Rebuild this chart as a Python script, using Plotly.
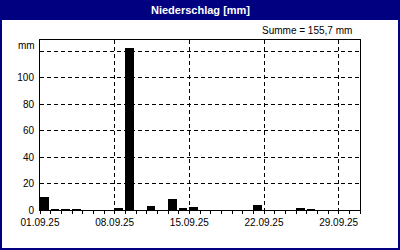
import plotly.graph_objects as go

days = [f"2025-09-{d:02d}" for d in range(1, 31)]
rain = [9.8, 0.6, 0.6, 0.5, 0, 0, 0, 1.3, 122.6, 0,
        3.0, 0, 8.2, 1.4, 2.1, 0, 0, 0, 0, 0,
        3.8, 0, 0, 0, 1.2, 0.6, 0, 0, 0, 0]
y_tickvals = [0, 20, 40, 60, 80, 100, 120]
y_ticktext = ["0", "20", "40", "60", "80", "100", ""]
title_text = "Niederschlag [mm]"
sum_text = "Summe = 155,7 mm"
unit_text = "mm"

NAVY = "#000080"
FONT = "Liberation Sans"
DAY_MS = 86400000

fig = go.Figure()
fig.add_trace(go.Bar(x=days, y=rain, width=[0.8 * DAY_MS] * len(days), offset=0,
                     marker=dict(color="black", line=dict(width=0))))

W, H = 400, 250
L, R, T, B = 40, 40, 40, 40
pw, ph = W - L - R, H - T - B

def px_x(x):
    return (x - L) / pw

def px_y(y):
    return (H - B - y) / ph

shapes = [
    dict(type="rect", xref="paper", yref="paper", x0=px_x(0), x1=px_x(W), y0=px_y(20), y1=px_y(0),
         fillcolor=NAVY, line=dict(width=0), layer="above"),
    dict(type="rect", xref="paper", yref="paper", x0=px_x(0), x1=px_x(2), y0=px_y(H), y1=px_y(0),
         fillcolor=NAVY, line=dict(width=0), layer="above"),
    dict(type="rect", xref="paper", yref="paper", x0=px_x(W - 2), x1=px_x(W), y0=px_y(H), y1=px_y(0),
         fillcolor=NAVY, line=dict(width=0), layer="above"),
    dict(type="rect", xref="paper", yref="paper", x0=px_x(0), x1=px_x(W), y0=px_y(H), y1=px_y(H - 2),
         fillcolor=NAVY, line=dict(width=0), layer="above"),
]

annotations = [
    dict(text=f"<b>{title_text}</b>", xref="paper", yref="paper", x=px_x(200), y=px_y(10),
         xanchor="center", yanchor="middle", showarrow=False,
         font=dict(family=FONT, size=11, color="white")),
    dict(text=sum_text, xref="paper", yref="paper", x=px_x(354), y=px_y(31),
         xanchor="right", yanchor="middle", showarrow=False,
         font=dict(family=FONT, size=10, color="black")),
    dict(text=unit_text, xref="paper", yref="paper", x=px_x(37), y=px_y(45),
         xanchor="right", yanchor="middle", showarrow=False,
         font=dict(family=FONT, size=10, color="black")),
]

fig.update_layout(
    width=W, height=H,
    margin=dict(l=L, r=R, t=T, b=B),
    paper_bgcolor="white", plot_bgcolor="white",
    showlegend=False,
    bargap=0,
    shapes=shapes,
    annotations=annotations,
    font=dict(family=FONT, size=10, color="black"),
)

fig.update_xaxes(
    type="date",
    range=["2025-09-01", "2025-10-01"],
    tick0="2025-09-01", dtick=7 * DAY_MS,
    tickformat="%d.%m.%y",
    ticks="outside", ticklen=3, tickcolor="black", tickwidth=1,
    minor=dict(dtick=DAY_MS, tick0="2025-09-01", ticks="outside", ticklen=3,
               tickcolor="black", showgrid=False),
    showgrid=True, gridcolor="black", griddash="4px,3px", gridwidth=1,
    showline=True, linecolor="black", linewidth=1, mirror=True,
    zeroline=False,
    tickfont=dict(family=FONT, size=10, color="black"),
    fixedrange=True,
)
fig.update_yaxes(
    range=[0, 128.5],
    tickmode="array", tickvals=y_tickvals, ticktext=y_ticktext,
    ticks="", ticklabelstandoff=3,
    showgrid=True, gridcolor="black", griddash="4px,3px", gridwidth=1,
    showline=True, linecolor="black", linewidth=1, mirror=True,
    zeroline=False,
    tickfont=dict(family=FONT, size=10, color="black"),
    fixedrange=True,
)

fig.write_html("out.html", config={"displayModeBar": False})
